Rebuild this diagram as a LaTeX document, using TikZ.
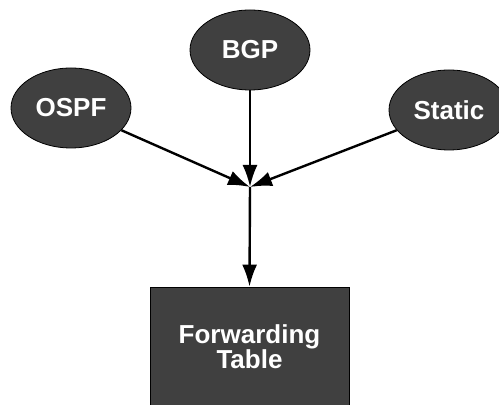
\documentclass[tikz,border=0pt]{standalone}
\usepackage{fontspec}
\setmainfont{Liberation Sans}
\usepackage{tikz}
\usetikzlibrary{arrows.meta,positioning,shapes.geometric}
\definecolor{rtgray}{HTML}{404040}
\tikzset{
  rtProto/.style={ellipse, draw=black, fill=rtgray, minimum width=60pt, minimum height=40pt,
    inner sep=0pt, font=\fontsize{13}{13}\selectfont\bfseries, text=white, align=center},
  rtTable/.style={rectangle, draw=black, fill=rtgray, minimum width=99.5pt, minimum height=60pt,
    inner sep=0pt, font=\fontsize{13}{12.5}\selectfont\bfseries, text=white, align=center},
  %% Route feed arrows
  rtmsg/.style={-{Latex[length=11pt, width=7.5pt]}, line width=1.2pt, black},
}

\begin{document}
\begin{tikzpicture}[x=0.5pt, y=-0.5pt]
\useasboundingbox (0,0) rectangle (499,405);
\node[rtProto] (pBGP)    at (250, 50)  {BGP};
\node[rtProto] (pOSPF)   at ( 71,108)  {OSPF};
\node[rtProto] (pStatic) at (449,110)  {Static};
\node[rtTable] (pFIB)    at (249.5,347) {Forwarding\\Table};

\coordinate (jMerge) at (250,187);

\draw[rtmsg] (pBGP) -- (jMerge);
\draw[rtmsg] (pOSPF) -- (jMerge);
\draw[rtmsg] (pStatic) -- (jMerge);
\draw[rtmsg] (jMerge) -- (pFIB.north);
\end{tikzpicture}
\end{document}
